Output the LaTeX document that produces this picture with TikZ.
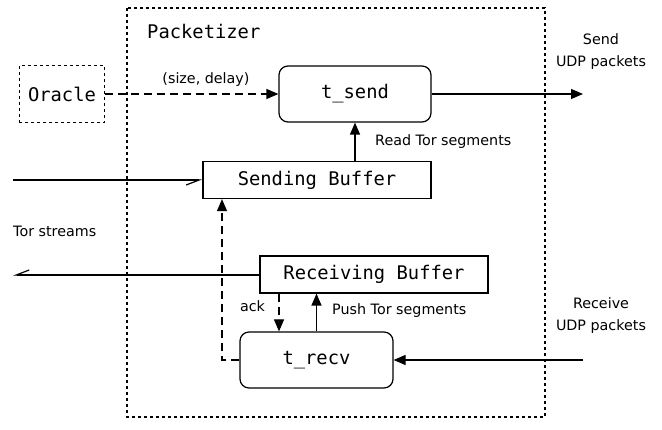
\documentclass[tikz,border=0pt]{standalone}
\usepackage{fontspec}
\setmainfont{DejaVu Sans}
\newfontfamily\monof{DejaVu Sans Mono}
\usetikzlibrary{arrows.meta}
\begin{document}
\begin{tikzpicture}[x=1pt,y=-1pt,
  lbl/.style={font=\fontsize{14.3}{22}\selectfont, inner sep=0pt, align=center},
  mono/.style={font=\monof\fontsize{18.8}{20}\selectfont},
  box/.style={draw, line width=1.2pt, inner sep=0pt, mono},
  rbox/.style={box, rounded corners=9pt},
  conn/.style={line width=1.2pt},
  tri/.style={-{Triangle[length=12pt,width=10pt]}},
  harp/.style={-{Straight Barb[harpoon,swap,length=13pt,width=10pt,line width=1.2pt]}},
  dsh/.style={dash pattern=on 8pt off 5pt},
  dot/.style={line width=1.5pt, dash pattern=on 3pt off 3pt}
]
\useasboundingbox (0,0) rectangle (662,430);
\draw[dot] (127,8) rectangle (545,417);
\node[mono, anchor=west, inner sep=0pt] (pk) at (147,31) {Packetizer};
\node[box, draw=none, minimum width=84pt, minimum height=56pt] (or) at (62,94) {Oracle};
\draw[dot] (or.south west) rectangle (or.north east);
\node[rbox, minimum width=152pt, minimum height=56pt] (ts) at (355,94) {t\_send};
\node[box, minimum width=228pt, minimum height=37pt] (sb) at (317,180) {Sending Buffer};
\node[box, minimum width=228pt, minimum height=37pt] (rb) at (374,274.5) {Receiving Buffer};
\node[rbox, minimum width=153pt, minimum height=56pt] (tr) at (316.5,360) {t\_recv};
\coordinate (sendend) at (583,94);
\coordinate (recvstart) at (583,360);
\coordinate (inL) at (13,180);
\coordinate (outL) at (13,275);
\coordinate (ackcorner) at (222,360);
\node[lbl] (sendlbl) at (601,52) {Send\\UDP packets};
\node[lbl] (recvlbl) at (601,316) {Receive\\UDP packets};
\node[lbl, anchor=west] (torlbl) at (13,231) {Tor streams};
\node[lbl] (sdlbl) at (206,80) {(size, delay)};
\node[lbl, anchor=west] (rdlbl) at (375,142) {Read Tor segments};
\node[lbl, anchor=west] (pslbl) at (332,311) {Push Tor segments};
\node[lbl] (acklbl) at (252.5,306) {ack};
% connectors
\draw[conn,dsh,tri] (or.east) -- (ts.west);
\draw[conn,tri] (ts.east) -- (sendend);
\draw[conn,tri] (sb.north -| ts.south) -- (ts.south);
\draw[conn,harp] (inL) -- (sb.west);
\draw[conn,harp] (rb.west |- outL) -- (outL);
\draw[conn,dsh,tri] (rb.south -| 279,0) -- (tr.north -| 279,0);
\draw[conn,tri] (tr.north) -- (rb.south -| tr.north);
\draw[conn,dsh,tri] (tr.west) -- (ackcorner) -- (sb.south -| ackcorner);
\draw[conn,tri] (recvstart) -- (tr.east);
\end{tikzpicture}
\end{document}
